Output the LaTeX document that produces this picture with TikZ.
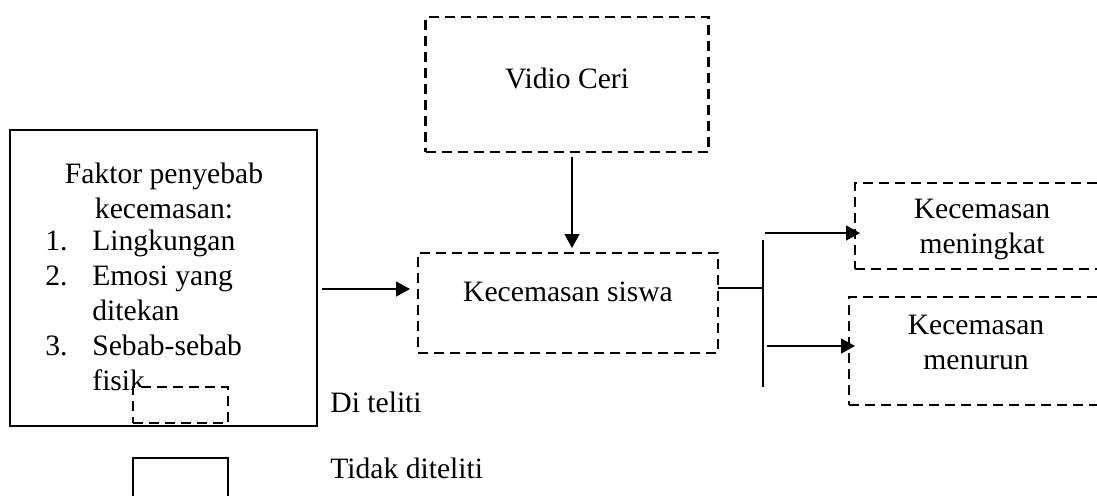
\documentclass[tikz,border=0pt]{standalone}
\usepackage{fontspec}
\setmainfont{Liberation Serif}
\usetikzlibrary{arrows.meta}

\begin{document}
\begin{tikzpicture}[
        x = 0.5pt, y = -0.5pt,
        font = \fontsize{14.8}{17.5}\selectfont,
        box/.style = {
            draw,
            rectangle,
            line width = 1.3pt,
            minimum width = #1,
            inner sep = 0pt,
            outer sep = 0pt,
            align = center,
            fill = white
        },
        box/.default = 50pt,
        dashbox/.style = {
            box = #1,
            dash pattern = on 5pt off 3pt
        },
        dashbox/.default = 50pt,
        link/.style = {
            line width = 0.7pt,
            -{Triangle[length=7pt, width=7.5pt]}
        }
    ]
    \useasboundingbox (0,0) rectangle (1097,495);
    \clip (0,0) rectangle (1097,495);

    \node[dashbox=141.5pt, minimum height=67.5pt, text depth=6.4pt] (vidio) at (567,84.5) {Vidio Ceri};
    \node[dashbox=150pt, minimum height=50pt, text depth=10.9pt] (siswa) at (568,303) {Kecemasan siswa};
    \node[box=153.5pt, minimum height=148pt] (faktor) at (163.5,278) {};
    \node[anchor=north, align=center, inner sep=0pt] (faktorhead) at (164,163) {Faktor penyebab\\kecemasan:};
    \node[anchor=north west, align=left, inner sep=0pt] (faktorlist) at (45,230) {\makebox[23.5pt][l]{1.}Lingkungan\\
        \makebox[23.5pt][l]{2.}Emosi yang\\
        \makebox[23.5pt][l]{}ditekan\\
        \makebox[23.5pt][l]{3.}Sebab-sebab\\
        \makebox[23.5pt][l]{}fisik};
    \node[dashbox=127pt, minimum height=43pt, text depth=0pt] (meningkat) at (982,226) {Kecemasan\\meningkat};
    \node[dashbox=127pt, minimum height=54pt, text depth=8.4pt] (menurun) at (976,351) {Kecemasan\\menurun};

    % keterangan
    \node[dashbox=47.5pt, minimum height=18pt] (ditelitibox) at (180.5,405) {};
    \node[anchor=base west, inner sep=0pt] (ditelititext) at (330,412) {Di teliti};
    \node[box=47.5pt, minimum height=31pt] (tidakbox) at (180.5,489) {};
    \node[anchor=base west, inner sep=0pt] (tidaktext) at (330,478) {Tidak diteliti};

    \coordinate (splittop) at (763,240);
    \coordinate (splitbot) at (763,387);

    \draw[link, shorten <=2.5pt, shorten >=2.5pt] ([xshift=2.5pt]vidio.south) -- ([xshift=2.5pt]vidio.south |- siswa.north);
    \draw[link, shorten <=2.5pt, shorten >=4pt] ([yshift=7pt]siswa.west -| faktor.east) -- ([yshift=7pt]siswa.west);
    \draw[line width=0.7pt] ([yshift=7.5pt]siswa.east) -- ([yshift=7.5pt]siswa.east -| splittop);
    \draw[line width=0.7pt] (splittop) -- (splitbot);
    \draw[link, shorten <=1pt, shorten >=-2.5pt] ([yshift=-3.5pt]meningkat.west -| splittop) -- ([yshift=-3.5pt]meningkat.west);
    \draw[link, shorten <=2pt, shorten >=-3pt] ([yshift=2.5pt]menurun.west -| splittop) -- ([yshift=2.5pt]menurun.west);
\end{tikzpicture}
\end{document}
